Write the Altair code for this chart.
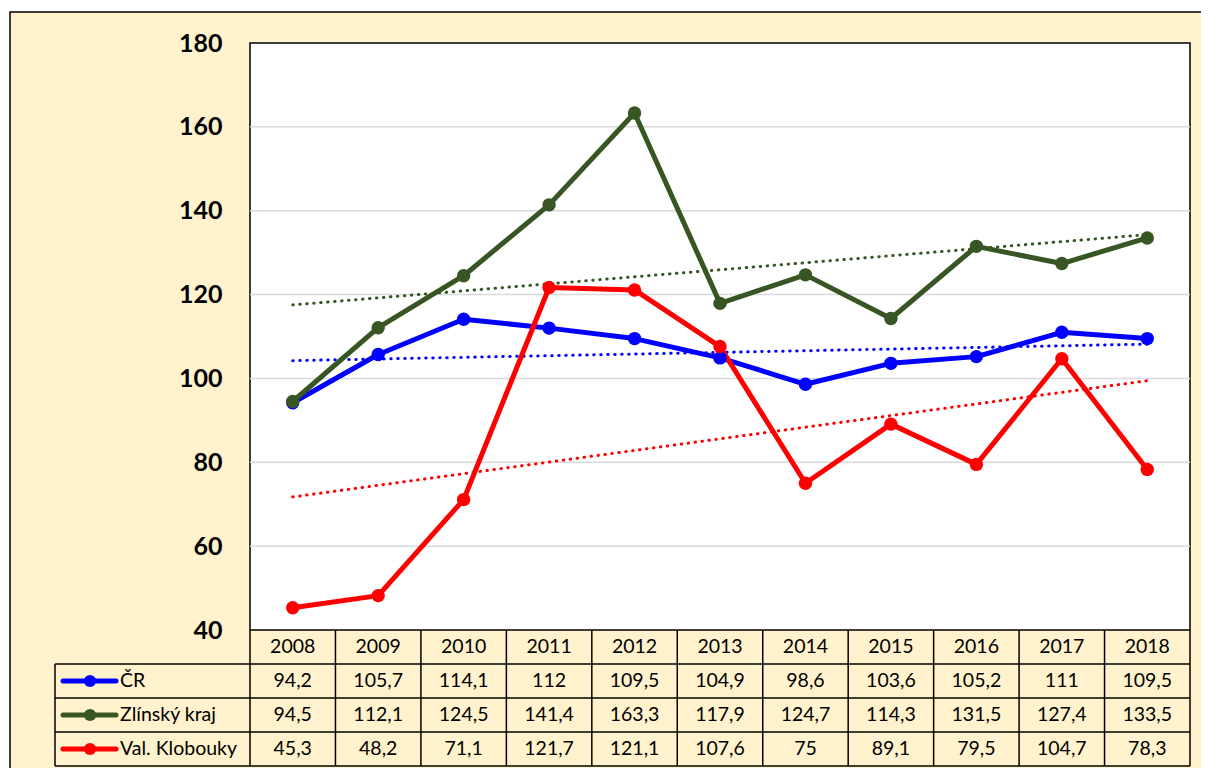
import altair as alt
import pandas as pd

# ---- data -------------------------------------------------------------
years = [2008, 2009, 2010, 2011, 2012, 2013, 2014, 2015, 2016, 2017, 2018]
series_names = ["ČR", "Zlínský kraj", "Val. Klobouky"]
cr_values = [94.2, 105.7, 114.1, 112, 109.5, 104.9, 98.6, 103.6, 105.2, 111, 109.5]
zlin_values = [94.5, 112.1, 124.5, 141.4, 163.3, 117.9, 124.7, 114.3, 131.5, 127.4, 133.5]
val_values = [45.3, 48.2, 71.1, 121.7, 121.1, 107.6, 75, 89.1, 79.5, 104.7, 78.3]
y_ticks = [40, 60, 80, 100, 120, 140, 160, 180]
series_colors = ["#0000FF", "#375623", "#FF0000"]

# ---- layout -----------------------------------------------------------
W, H = 940, 587
PAD = {"left": 242, "top": 35, "right": 11, "bottom": 138}
ROW_H = 34
LEG_X0 = -195
FONT = "Lato"
TFS = 19.5
CREAM = "#FFF2CC"

all_values = [cr_values, zlin_values, val_values]
rows = []
for si, (name, vals) in enumerate(zip(series_names, all_values)):
    for y, v in zip(years, vals):
        rows.append({"series": name, "year": y, "value": v,
                     "label": f"{v:g}".replace(".", ","), "r": si + 1.5})
df = pd.DataFrame(rows)

year_df = pd.DataFrame({"year": years, "label": [str(y) for y in years], "r": 0.5})
legend_df = pd.DataFrame({"series": series_names,
                          "r": [i + 1.5 for i in range(len(series_names))]})
vlines_df = pd.DataFrame({"bx": [years[0] - 0.5 + k for k in range(len(years) + 1)],
                          "r0": 0, "r1": len(series_names) + 1})
hlines_df = pd.DataFrame({"r": list(range(1, len(series_names) + 2))})
grid_df = pd.DataFrame({"tick": y_ticks[1:-1]})
one = pd.DataFrame({"a": [0]})

xscale = alt.Scale(domain=[years[0] - 0.5, years[-1] + 0.5], nice=False, zero=False)
yscale = alt.Scale(domain=[y_ticks[0], y_ticks[-1]], nice=False, zero=False)
rscale = alt.Scale(domain=[0, 4], range=[H, H + 4 * ROW_H], nice=False, zero=False)
color = alt.Color("series:N", scale=alt.Scale(domain=series_names, range=series_colors), legend=None)
yaxis = alt.Axis(values=y_ticks, grid=False, domain=False, ticks=False, tickSize=0,
                 labelPadding=28, labelFont=FONT, labelFontSize=25, labelFontWeight="bold",
                 labelColor="black", title=None, zindex=1)

# ---- main plot --------------------------------------------------------
bg = alt.Chart(one).mark_rect(fill=CREAM, stroke="black", strokeWidth=1.5).encode(
    x=alt.value(-240), x2=alt.value(980), y=alt.value(-31), y2=alt.value(800))
plotbg = alt.Chart(one).mark_rect(fill="white", stroke="black", strokeWidth=1.5).encode(
    x=alt.value(0), x2=alt.value(W), y=alt.value(0), y2=alt.value(H))
grid = alt.Chart(grid_df).mark_rule(color="#d9d9d9", strokeWidth=1.5).encode(
    y=alt.Y("tick:Q", scale=yscale, axis=yaxis), x=alt.value(0), x2=alt.value(W))
trend = alt.Chart(df).transform_regression(
    "year", "value", groupby=["series"]).mark_line(
    strokeDash=[0.5, 6.5], strokeCap="round", strokeWidth=3).encode(
    x=alt.X("year:Q", scale=xscale, axis=None),
    y=alt.Y("value:Q", scale=yscale, axis=yaxis), color=color, detail="series:N")
lines = alt.Chart(df).mark_line(strokeWidth=5, strokeCap="round", strokeJoin="round").encode(
    x=alt.X("year:Q", scale=xscale, axis=None),
    y=alt.Y("value:Q", scale=yscale, axis=yaxis), color=color, detail="series:N")
points = alt.Chart(df).mark_point(filled=True, opacity=1, size=180).encode(
    x=alt.X("year:Q", scale=xscale, axis=None),
    y=alt.Y("value:Q", scale=yscale, axis=yaxis), color=color)
main = alt.layer(bg, plotbg, grid, trend, lines, points)

# ---- table ------------------------------------------------------------
ry = lambda f: alt.Y(f, scale=rscale, axis=None)
year_txt = alt.Chart(year_df).mark_text(font=FONT, fontSize=TFS, color="black", baseline="middle").encode(
    x=alt.X("year:Q", scale=xscale, axis=None), y=ry("r:Q"), text="label:N")
val_txt = alt.Chart(df).mark_text(font=FONT, fontSize=TFS, color="black", baseline="middle").encode(
    x=alt.X("year:Q", scale=xscale, axis=None), y=ry("r:Q"), text="label:N")
vlines = alt.Chart(vlines_df).mark_rule(color="black", strokeWidth=1.5).encode(
    x=alt.X("bx:Q", scale=xscale, axis=None), y=ry("r0:Q"), y2="r1:Q")
leg_left = alt.Chart(one).mark_rule(color="black", strokeWidth=1.5).encode(
    x=alt.value(LEG_X0), y=alt.Y("datum_a:Q", scale=rscale, axis=None), y2="datum_b:Q"
).transform_calculate(datum_a="1", datum_b="4")
hlines = alt.Chart(hlines_df).mark_rule(color="black", strokeWidth=1.5).encode(
    y=ry("r:Q"), x=alt.value(LEG_X0), x2=alt.value(W))
leg_line = alt.Chart(legend_df).mark_rule(strokeWidth=5, strokeCap="round").encode(
    y=ry("r:Q"), x=alt.value(LEG_X0 + 8), x2=alt.value(LEG_X0 + 61), color=color)
leg_pt = alt.Chart(legend_df).mark_point(filled=True, opacity=1, size=150).encode(
    y=ry("r:Q"), x=alt.value(LEG_X0 + 35), color=color)
leg_txt = alt.Chart(legend_df).mark_text(font=FONT, fontSize=TFS, color="black",
                                         align="left", baseline="middle").encode(
    y=ry("r:Q"), x=alt.value(LEG_X0 + 65), text="series:N")
table = alt.layer(year_txt, val_txt, vlines, leg_left, hlines, leg_line, leg_pt, leg_txt)

chart = alt.layer(main, table).resolve_scale(y="independent").properties(
    width=W, height=H, padding=PAD, autosize=alt.AutoSizeParams(type="none"),
    background="white"
).configure_view(stroke="transparent")

chart.save("out.html", embed_options={"renderer": "svg", "actions": False})
